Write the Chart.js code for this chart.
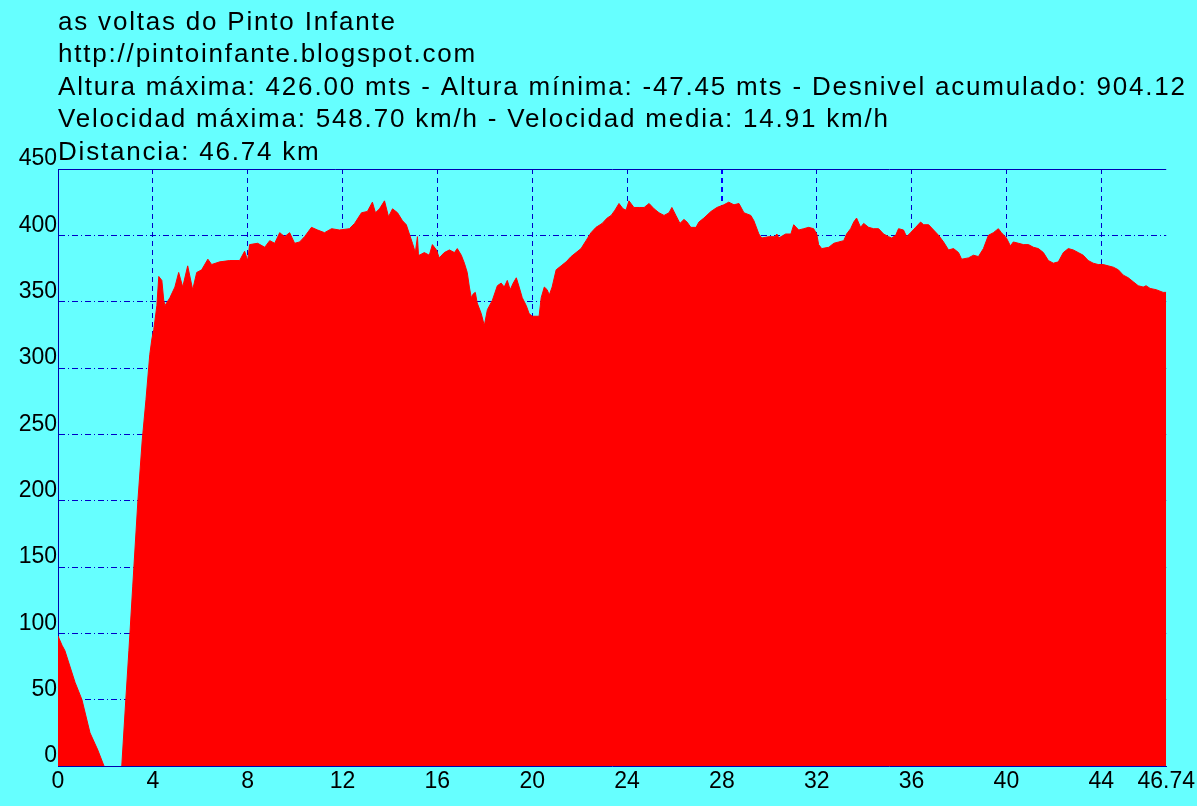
<!DOCTYPE html>
<html>
<head>
<meta charset="utf-8">
<script src="https://cdn.jsdelivr.net/npm/chart.js@4.4.1/dist/chart.umd.min.js"></script>
<style>
  html, body { margin: 0; padding: 0; background: #ffffff; }
  #wrap { position: absolute; left: 0; top: 0; width: 1197px; height: 806px; }
</style>
</head>
<body>
<div id="wrap"><canvas id="perfil"></canvas></div>
<script>
// ================== DATOS ==================
const headerLines = [
  "as voltas do Pinto Infante",
  "http://pintoinfante.blogspot.com",
  "Altura máxima: 426.00 mts - Altura mínima: -47.45 mts - Desnivel acumulado: 904.12",
  "Velocidad máxima: 548.70 km/h - Velocidad media: 14.91 km/h",
  "Distancia: 46.74 km",
];

// distancia (km)
const dist = [
  0, 0.17, 0.29, 0.72, 1.01, 1.35, 1.68, 1.94, 2.15, 2.35, 2.55, 2.69, 2.86, 2.99, 3.15, 3.37, 3.55, 3.71, 3.87, 3.96,
  4.04, 4.17, 4.25, 4.38, 4.46, 4.51, 4.72, 4.93, 5.09, 5.26, 5.47, 5.68, 5.85, 6.06, 6.32, 6.48, 6.82, 7.24, 7.66, 7.87,
  8.00, 8.08, 8.42, 8.72, 8.93, 9.14, 9.35, 9.56, 9.77, 9.98, 10.19, 10.40, 10.69, 10.95, 11.24, 11.54, 11.87, 12.29, 12.51, 12.80,
  13.05, 13.26, 13.39, 13.56, 13.77, 13.94, 14.11, 14.32, 14.53, 14.69, 14.82, 14.95, 15.07, 15.16, 15.20, 15.24, 15.45, 15.66, 15.79, 15.96,
  16.08, 16.29, 16.51, 16.72, 16.84, 17.01, 17.14, 17.26, 17.35, 17.43, 17.52, 17.60, 17.68, 17.85, 17.98, 18.11, 18.32, 18.53, 18.69, 18.82,
  18.95, 19.07, 19.20, 19.33, 19.45, 19.58, 19.75, 19.87, 20.00, 20.29, 20.38, 20.51, 20.63, 20.72, 20.84, 21.01, 21.22, 21.43, 21.64, 21.85,
  22.06, 22.27, 22.48, 22.69, 22.95, 23.16, 23.33, 23.49, 23.66, 23.83, 23.96, 24.08, 24.29, 24.51, 24.72, 24.93, 25.14, 25.35, 25.56, 25.77,
  25.89, 26.06, 26.23, 26.40, 26.53, 26.69, 26.91, 27.03, 27.24, 27.54, 27.79, 28.08, 28.29, 28.51, 28.72, 28.93, 29.22, 29.35, 29.56, 29.68,
  29.98, 30.23, 30.32, 30.40, 30.69, 30.91, 31.03, 31.24, 31.45, 31.66, 31.87, 32.00, 32.08, 32.21, 32.51, 32.72, 32.93, 33.14, 33.26, 33.43,
  33.56, 33.68, 33.85, 33.98, 34.19, 34.40, 34.61, 34.82, 35.03, 35.16, 35.33, 35.45, 35.66, 35.79, 35.96, 36.17, 36.38, 36.51, 36.72, 36.93,
  37.14, 37.35, 37.56, 37.77, 37.98, 38.11, 38.40, 38.61, 38.82, 39.03, 39.24, 39.45, 39.66, 39.79, 40.00, 40.17, 40.29, 40.51, 40.72, 40.93,
  41.14, 41.35, 41.56, 41.77, 41.98, 42.19, 42.40, 42.61, 42.82, 43.03, 43.24, 43.45, 43.66, 43.87, 44.08, 44.29, 44.51, 44.72, 44.93, 45.14,
  45.35, 45.56, 45.77, 45.89, 46.06, 46.32, 46.61, 46.74,
];

// altura (m)
const elev = [
  98, 91, 87, 63, 50, 25, 12, 0, -30, -47, -25, 0, 50, 87, 135, 200, 245, 276, 310, 322,
  329, 347, 369, 366, 351, 347, 353, 361, 372, 361, 377, 359, 372, 374, 382, 378, 380, 381, 381, 388,
  381, 393, 394, 391, 396, 394, 402, 399, 402, 394, 395, 399, 406, 404, 402, 405, 404, 405, 409, 417,
  418, 425, 417, 420, 426, 414, 420, 417, 411, 408, 401, 394, 387, 399, 386, 385, 387, 385, 393, 389,
  383, 387, 389, 387, 390, 385, 379, 372, 361, 353, 356, 357, 349, 341, 332, 344, 351, 362, 364, 361,
  366, 359, 364, 368, 361, 353, 347, 341, 339, 339, 353, 361, 359, 355, 361, 374, 377, 380, 384, 387,
  390, 396, 402, 406, 409, 413, 415, 419, 424, 420, 419, 426, 421, 421, 421, 424, 420, 417, 415, 417,
  421, 415, 409, 412, 410, 406, 406, 410, 413, 418, 421, 423, 425, 423, 424, 417, 415, 411, 401, 398,
  399, 399, 401, 398, 401, 401, 408, 404, 405, 406, 405, 401, 393, 390, 391, 394, 395, 396, 401, 405,
  410, 413, 406, 409, 406, 405, 405, 401, 399, 398, 400, 405, 404, 399, 402, 406, 410, 408, 408, 404,
  400, 395, 389, 390, 387, 382, 383, 385, 384, 390, 400, 402, 405, 402, 398, 392, 395, 394, 393, 393,
  391, 390, 387, 381, 379, 380, 387, 390, 389, 387, 385, 381, 379, 378, 378, 377, 376, 374, 370, 368,
  365, 362, 361, 362, 360, 359, 357, 357,
];

const xTicks = [0, 4, 8, 12, 16, 20, 24, 28, 32, 36, 40, 44, 46.74];
const yTicks = [0, 50, 100, 150, 200, 250, 300, 350, 400, 450];

// ================== ESTILO ==================
const fondo = "#66ffff";
const azulEje = "#0000b0";
const azulRejilla = "#0000c8";
const fuente = '"Liberation Sans", Arial, sans-serif';

// cabecera con el texto de la ruta
const cabecera = {
  id: "cabecera",
  beforeDraw(chart) {
    const ctx = chart.ctx;
    ctx.save();
    ctx.fillStyle = fondo;
    ctx.fillRect(0, 0, chart.width, chart.height);
    ctx.font = "26px " + fuente;
    ctx.letterSpacing = "1.8px";
    ctx.fillStyle = "#000000";
    ctx.textBaseline = "alphabetic";
    headerLines.forEach((t, i) => ctx.fillText(t, 58, 30 + i * 32.4));
    ctx.restore();
  },
};

const puntos = dist.map((d, i) => ({ x: d, y: elev[i] }));

new Chart(document.getElementById("perfil"), {
  type: "line",
  data: {
    datasets: [
      {
        data: puntos,
        fill: "origin",
        backgroundColor: "#ff0000",
        borderColor: "#ff0000",
        borderWidth: 1,
        pointRadius: 0,
        tension: 0,
      },
    ],
  },
  options: {
    responsive: true,
    maintainAspectRatio: false,
    animation: false,
    events: [],
    layout: { padding: { left: 0, right: 29, top: 169, bottom: 0 } },
    plugins: { legend: { display: false }, tooltip: { enabled: false } },
    scales: {
      x: {
        type: "linear",
        min: 0,
        max: 46.74,
        z: 1,
        afterBuildTicks: (s) => { s.ticks = xTicks.map((v) => ({ value: v })); },
        afterFit: (s) => { s.height = 40; },
        ticks: {
          color: "#000000",
          font: { family: fuente, size: 23 },
          padding: 2,
          maxRotation: 0,
          autoSkip: false,
          callback: (v) => (v === 46.74 ? "46.74" : String(v)),
        },
        grid: {
          drawTicks: false,
          color: (c) => (c.tick && c.tick.value === 28 ? "#0000ff" : c.tick && c.tick.value === 46.74 ? "rgba(0,0,0,0)" : azulRejilla),
          lineWidth: (c) => (c.tick && c.tick.value === 28 ? 2 : 1),
        },
        border: { display: true, color: azulEje, width: 1, dash: [5, 4] },
      },
      y: {
        min: 0,
        max: 450,
        z: 1,
        afterBuildTicks: (s) => { s.ticks = yTicks.map((v) => ({ value: v })); },
        afterFit: (s) => { s.width = 58; },
        ticks: {
          color: "#000000",
          font: { family: fuente, size: 23 },
          padding: 1,
          labelOffset: -10,
        },
        grid: {
          drawTicks: false,
          color: (c) => (c.tick && c.tick.value === 450 ? azulEje : azulRejilla),
          lineWidth: 1,
        },
        border: {
          display: true,
          color: azulEje,
          width: 1,
          dash: (c) => (c.tick && c.tick.value === 450 ? [] : [6, 3, 1, 3]),
        },
      },
    },
  },
  plugins: [cabecera],
});
</script>
</body>
</html>
